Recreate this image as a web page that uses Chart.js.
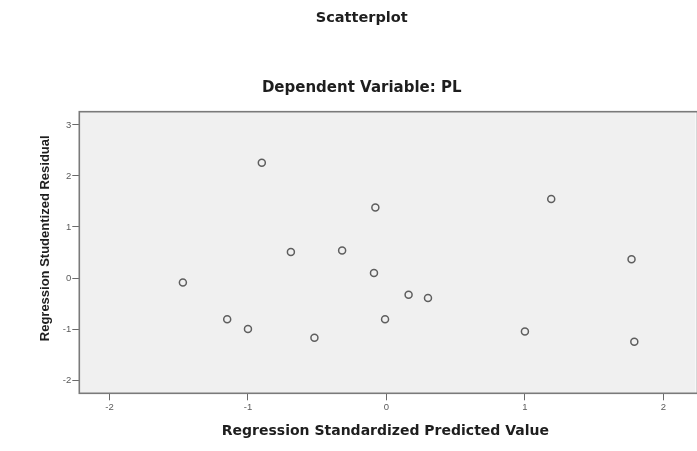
<!DOCTYPE html>
<html>
<head>
<meta charset="utf-8">
<script src="https://cdn.jsdelivr.net/npm/chart.js@4/dist/chart.umd.min.js"></script>
<style>
  html, body { margin: 0; padding: 0; background: #ffffff; }
  #wrap { width: 697px; height: 451px; }
</style>
</head>
<body>
<div id="wrap"><canvas id="c" width="697" height="451"></canvas></div>
<script>
// ---- data ----
const chartTitle = "Scatterplot";
const chartSubtitle = "Dependent Variable: PL";
const xAxisTitle = "Regression Standardized Predicted Value";
const yAxisTitle = "Regression Studentized Residual";

const predictedValue = [-0.90, -1.47, -1.15, -1.00, -0.08, -0.69, -0.32, -0.09, 0.16, 0.30, -0.01, -0.52, 1.19, 1.77, 1.00, 1.79];
const studentizedResidual = [2.26, -0.09, -0.81, -1.00, 1.38, 0.51, 0.54, 0.10, -0.33, -0.39, -0.81, -1.17, 1.55, 0.37, -1.05, -1.25];

const xTicks = [-2, -1, 0, 1, 2];
const yTicks = [-2, -1, 0, 1, 2, 3];

const points = predictedValue.map((v, i) => ({ x: v, y: studentizedResidual[i] }));

const plotFrame = {
  id: 'plotFrame',
  beforeDatasetsDraw(chart) {
    const { ctx, chartArea: a } = chart;
    ctx.save();
    ctx.fillStyle = '#f0f0f0';
    ctx.fillRect(a.left, a.top, a.right - a.left + 4, a.bottom - a.top);
    ctx.strokeStyle = '#7a7a7a';
    ctx.lineWidth = 1.6;
    ctx.strokeRect(a.left, a.top, a.right - a.left + 6, a.bottom - a.top);
    ctx.restore();
  }
};

const yTitlePlugin = {
  id: 'yTitlePlugin',
  afterDraw(chart) {
    const { ctx } = chart;
    ctx.save();
    ctx.translate(45.3, 238.3);
    ctx.rotate(-Math.PI / 2);
    ctx.font = 'bold 13px "Liberation Sans", Arial, sans-serif';
    ctx.fillStyle = '#1e1e1e';
    ctx.textAlign = 'center';
    ctx.textBaseline = 'middle';
    ctx.fillText(yAxisTitle, 0, 0);
    ctx.restore();
  }
};

const leftPad = 26.4;

new Chart(document.getElementById('c'), {
  type: 'scatter',
  data: {
    datasets: [{
      data: points,
      pointStyle: 'circle',
      pointRadius: 3.5,
      pointBorderWidth: 1.5,
      pointBorderColor: '#5e5e5e',
      pointBackgroundColor: 'rgba(0,0,0,0)'
    }]
  },
  options: {
    responsive: false,
    animation: false,
    layout: { padding: { top: 0, left: leftPad, right: 0, bottom: 0 } },
    plugins: {
      legend: { display: false },
      tooltip: { enabled: false },
      title: {
        display: true,
        text: chartTitle,
        color: '#1e1e1e',
        font: { family: '"DejaVu Sans", sans-serif', size: 14.5, weight: 'bold', lineHeight: 1.2 },
        padding: { top: 9.6, bottom: 0 }
      },
      subtitle: {
        display: true,
        text: chartSubtitle,
        color: '#1e1e1e',
        font: { family: '"DejaVu Sans", sans-serif', size: 15, weight: 'bold', lineHeight: 1.2 },
        padding: { top: 52.5, bottom: 14.2 }
      }
    },
    scales: {
      x: {
        type: 'linear',
        min: -2.218,
        max: 2.203,
        afterBuildTicks(scale) { scale.ticks = xTicks.map(v => ({ value: v })); },
        afterFit(scale) { scale.height = 57.7; },
        border: { display: false },
        grid: { drawOnChartArea: false, drawTicks: true, tickLength: 7, color: '#6a6a6a', lineWidth: 1 },
        ticks: { color: '#5a5a5a', padding: 1, maxRotation: 0, font: { family: '"Liberation Sans", Arial, sans-serif', size: 9.5 } },
        title: {
          display: true,
          text: xAxisTitle,
          color: '#1e1e1e',
          font: { family: '"DejaVu Sans", sans-serif', size: 14, weight: 'bold', lineHeight: 1.2 },
          padding: { top: 0, bottom: 11.6 }
        }
      },
      y: {
        type: 'linear',
        min: -2.26,
        max: 3.26,
        afterBuildTicks(scale) { scale.ticks = yTicks.map(v => ({ value: v })); },
        afterFit(scale) { scale.width = 79.3 - leftPad; },
        border: { display: false },
        grid: { drawOnChartArea: false, drawTicks: true, tickLength: 7, color: '#6a6a6a', lineWidth: 1 },
        ticks: { color: '#5a5a5a', padding: 1, font: { family: '"Liberation Sans", Arial, sans-serif', size: 9.5 } },
        title: { display: false }
      }
    }
  },
  plugins: [plotFrame, yTitlePlugin]
});
</script>
</body>
</html>
